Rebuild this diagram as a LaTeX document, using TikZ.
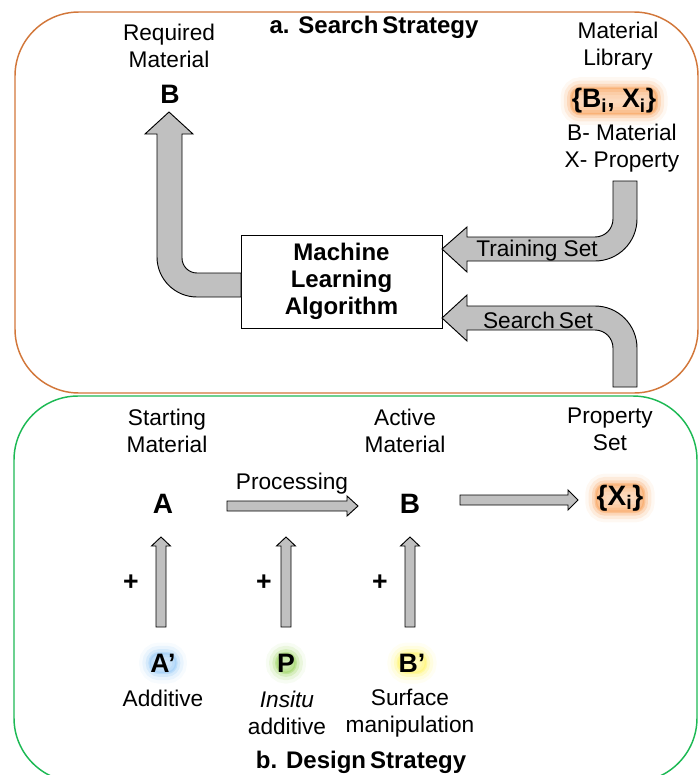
\documentclass[tikz,border=0pt]{standalone}
\usepackage{fontspec}
\setmainfont{Liberation Sans}
\definecolor{frameorange}{HTML}{D2773A}
\definecolor{framegreen}{HTML}{1DB954}
\definecolor{arrgray}{HTML}{C0C0C0}
\definecolor{glowor}{HTML}{F79646}
\definecolor{glowbl}{HTML}{8EC5F5}
\definecolor{glowgr}{HTML}{92D050}
\definecolor{glowye}{HTML}{FFF35C}
\begin{document}
\begin{tikzpicture}[x=0.75pt,y=-0.75pt,
  txt/.style={font=\fontsize{17}{20.25}\selectfont, align=center, inner sep=0pt},
  bld/.style={font=\fontsize{18}{20.25}\selectfont\bfseries, align=center, inner sep=0pt},
  big/.style={font=\fontsize{20}{24}\selectfont\bfseries, inner sep=0pt},
  bigger/.style={font=\fontsize{21}{24}\selectfont\bfseries, inner sep=0pt},
  arr/.style={fill=arrgray, draw=black, line width=0.7pt, line join=miter},
  frame/.style={line width=1.1pt, rounded corners=48pt},
  glow/.style={inner sep=0.5pt, rounded corners=7pt,
    preaction={draw=#1, line width=16pt, opacity=.07},
    preaction={draw=#1, line width=11pt, opacity=.13},
    preaction={draw=#1, line width=6pt, opacity=.22},
    preaction={draw=#1, fill=#1, line width=2pt, opacity=.35}}]
\useasboundingbox (0,0) rectangle (699,775);
% frames
\draw[frame, draw=frameorange] (15,12) rectangle (698,393);
\draw[frame, draw=framegreen] (14,396) rectangle (697,782);

% ---------- a. Search strategy ----------
\node[bld] (titleA) at (374,27) {a. Search\hspace{3pt}Strategy};
\node[txt] (req) at (169,46) {Required\\Material};
\node[big] (Btop) at (170,94) {B};
\node[txt] (lib) at (618,46) {Material\\Library};
\node[big, glow=glowor] (BX) at (614,101) {\{B\textsubscript{i}, X\textsubscript{i}\}};
\node[txt] (legend) at (622,148) {B- Material\\X- Property};

\node[bld, draw=black, line width=0.7pt, minimum width=201*0.75pt, minimum height=93*0.75pt] (ml) at (341.5,281.5) {Machine\\Learning\\Algorithm};

% bent arrow to required material
\draw[arr] (169,112) -- (193,134) -- (182,134) -- (182,258)
  arc[start angle=180,end angle=90,radius=15] -- (241,273) -- (241,297) -- (197,297)
  arc[start angle=90,end angle=180,radius=40] -- (157,134) -- (145,134) -- cycle;
% training set arrow
\draw[arr] (442,249) -- (467,227) -- (467,237) -- (595,237)
  arc[start angle=90,end angle=0,radius=18] -- (613,181) -- (637,181) -- (637,219)
  arc[start angle=0,end angle=90,radius=42] -- (467,261) -- (467,272) -- cycle;
% search set arrow
\draw[arr] (442,318) -- (467,295) -- (467,306) -- (595,306)
  arc[start angle=270,end angle=360,radius=42] -- (637,387) -- (613,387) -- (613,348)
  arc[start angle=0,end angle=-90,radius=18] -- (467,330) -- (467,341) -- cycle;
\node[txt] (train) at (537,251) {Training Set};
\node[txt] (search) at (538,320) {Search\hspace{3pt}Set};

% ---------- b. Design strategy ----------
\node[txt] (start) at (167,431) {Starting\\Material};
\node[txt] (active) at (405,431) {Active\\Material};
\node[txt] (prop) at (610,429) {Property\\Set};
\node[bigger] (A) at (163,504) {A};
\node[bigger] (B) at (410,504) {B};
\node[txt] (proc) at (292,484) {Processing};
\node[bigger, glow=glowor] (X) at (620,498) {\{X\textsubscript{i}\}};

\draw[arr] (227,501) -- (347,501) -- (347,496) -- (358,506) -- (347,516) -- (347,511) -- (227,511) -- cycle;
\draw[arr] (460,495) -- (568,495) -- (568,490) -- (578,500) -- (568,510) -- (568,505) -- (460,505) -- cycle;

\foreach \cx in {161,286,410}{
  \draw[arr] (\cx-5,627) -- (\cx-5,546) -- (\cx-9.5,546) -- (\cx,537) -- (\cx+9.5,546) -- (\cx+5,546) -- (\cx+5,627) -- cycle;
}
\node[big] (p1) at (131,583) {+};
\node[big] (p2) at (264,583) {+};
\node[big] (p3) at (380,583) {+};

\node[big, glow=glowbl] (Ap) at (163,663) {A’};
\node[big, glow=glowgr] (P) at (286,663) {P};
\node[big, glow=glowye] (Bp) at (412,663) {B’};

\node[txt] (addA) at (163,698) {Additive};
\node[txt] (insitu) at (287,713) {\itshape Insitu\\additive};
\node[txt] (surf) at (410,713) {Surface\\manipulation};
\node[bld] (titleB) at (361,762) {b. Design\hspace{3pt}Strategy};
\end{tikzpicture}
\end{document}
